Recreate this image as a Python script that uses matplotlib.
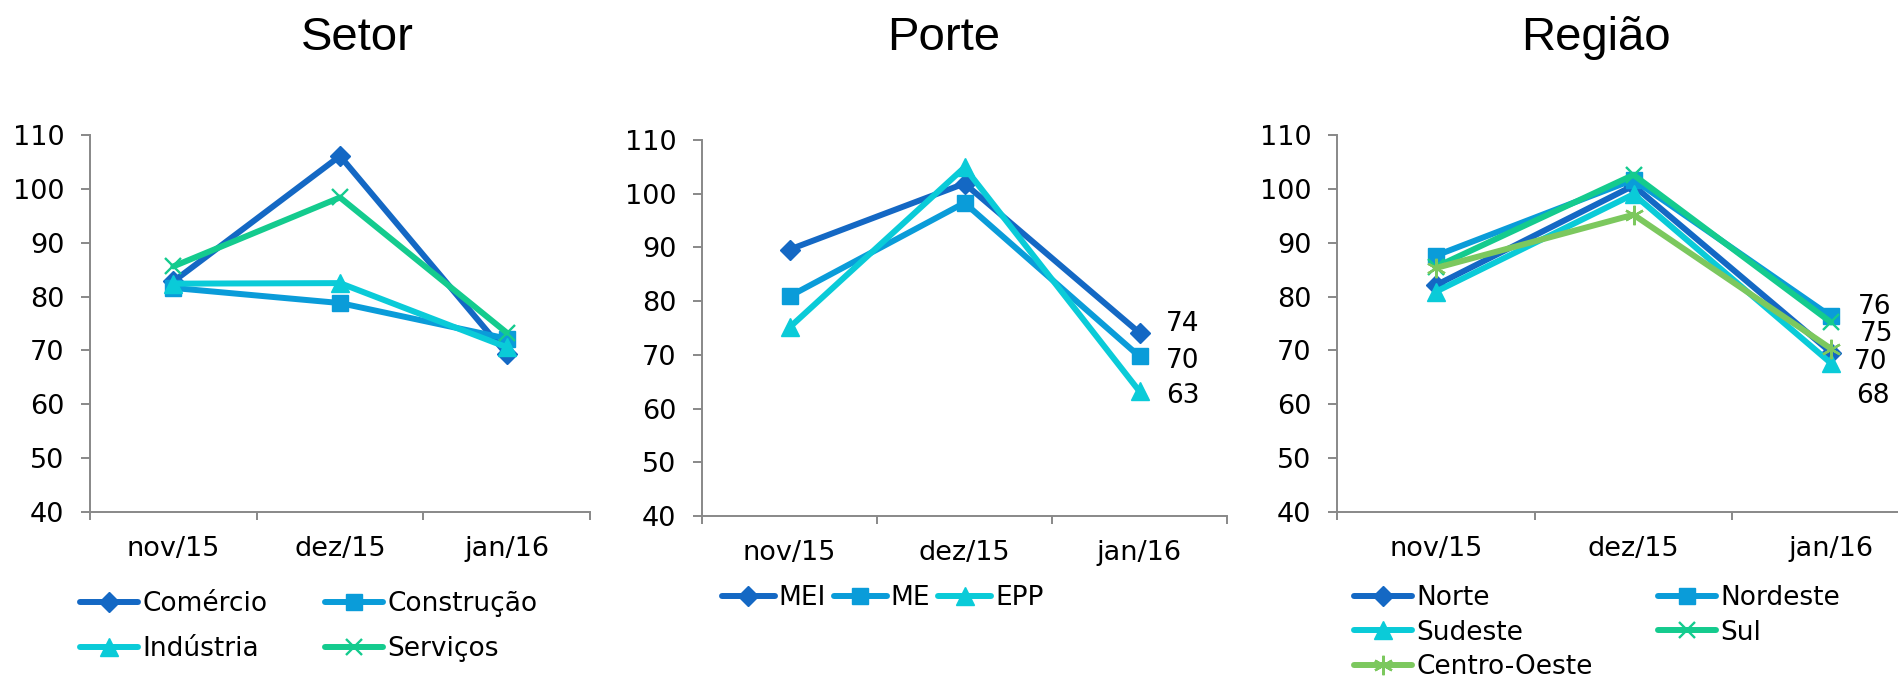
import numpy as np
import matplotlib
matplotlib.use("Agg")
import matplotlib.pyplot as plt
from matplotlib.ticker import FixedLocator, NullFormatter, FixedFormatter

plt.rcParams['font.family'] = ['DejaVu Sans']

# data
months = ["nov/15", "dez/15", "jan/16"]

setor_names = ["Comércio", "Construção", "Indústria", "Serviços"]
comercio = [82.8, 106.1, 69.3]
construcao = [81.6, 78.8, 72.2]
industria = [82.4, 82.5, 70.6]
servicos = [85.6, 98.4, 73.3]

porte_names = ["MEI", "ME", "EPP"]
mei = [89.6, 101.9, 74.1]
me = [80.9, 98.3, 69.7]
epp = [75.1, 104.9, 63.2]

regiao_names = ["Norte", "Nordeste", "Sudeste", "Sul", "Centro-Oeste"]
norte = [82.1, 100.6, 69.6]
nordeste = [87.6, 101.7, 76.3]
sudeste = [80.9, 99.0, 67.6]
sul = [85.5, 102.6, 75.2]
centro_oeste = [85.3, 95.2, 70.3]

# colours / markers
C_DARK = '#1468C4'
C_BLUE = '#0A9CD9'
C_CYAN = '#0ACBD8'
C_TEAL = '#14CB8E'
C_GREEN = '#7CC85E'

STY = {
    'D': dict(marker='D', ms=10.5),
    's': dict(marker='s', ms=11),
    '^': dict(marker='^', ms=12.5),
    'x': dict(marker='x', ms=12, mew=1.7),
    '*': dict(marker=(6, 2, 0), ms=14, mew=1.7),
}

W, H = 1898, 680
fig = plt.figure(figsize=(W / 100, H / 100), dpi=100)


def px_box(left, right, top, bottom):
    return [left / W, 1 - bottom / H, (right - left) / W, (bottom - top) / H]


def setup_axes(ax):
    ax.set_xlim(0, 3)
    ax.set_ylim(40, 110)
    ax.set_yticks(range(40, 111, 10))
    for s in ['top', 'right']:
        ax.spines[s].set_visible(False)
    for s in ['left', 'bottom']:
        ax.spines[s].set_color('#888888')
        ax.spines[s].set_linewidth(1.4)
    ax.xaxis.set_major_locator(FixedLocator([0, 1, 2, 3]))
    ax.xaxis.set_major_formatter(NullFormatter())
    ax.xaxis.set_minor_locator(FixedLocator([0.5, 1.5, 2.5]))
    ax.xaxis.set_minor_formatter(FixedFormatter(months))
    ax.tick_params(axis='x', which='major', length=6, width=1.4, color='#888888', direction='out')
    ax.tick_params(axis='x', which='minor', length=0, pad=17, labelsize=19.5)
    ax.tick_params(axis='y', length=6.5, width=1.4, color='#888888', pad=12, labelsize=19.5)


def draw(ax, series, names, colors, markers):
    x = np.arange(len(months)) + 0.5
    handles = []
    for vals, name, col, mk in zip(series, names, colors, markers):
        h, = ax.plot(x, vals, color=col, lw=4.3, mfc=col, mec=col,
                     label=name, solid_capstyle='round', **STY[mk])
        handles.append(h)
    return handles


def add_legend(ax, handles, order, ncol, anchor_px, colsp, lsp, hlen=2.2):
    hs = [handles[i] for i in order]
    ax.legend(hs, [h.get_label() for h in hs], ncol=ncol, loc='upper left',
              bbox_to_anchor=(anchor_px[0] / W, 1 - anchor_px[1] / H),
              bbox_transform=fig.transFigure, frameon=False, fontsize=19,
              borderpad=0, borderaxespad=0, handlelength=hlen,
              handletextpad=0.15, columnspacing=colsp, labelspacing=lsp,
              numpoints=1)


# Setor
ax1 = fig.add_axes(px_box(90, 590, 135, 512))
setup_axes(ax1)
h1 = draw(ax1, [comercio, construcao, industria, servicos], setor_names,
          [C_DARK, C_BLUE, C_CYAN, C_TEAL], ['D', 's', '^', 'x'])
add_legend(ax1, h1, [0, 2, 1, 3], 2, (80, 591), 2.2, 0.72)

# Porte
ax2 = fig.add_axes(px_box(702, 1227, 140, 516))
setup_axes(ax2)
h2 = draw(ax2, [mei, me, epp], porte_names,
          [C_DARK, C_BLUE, C_CYAN], ['D', 's', '^'])
add_legend(ax2, h2, [0, 1, 2], 3, (722, 585), 0.3, 0.5, hlen=2.0)
for vals, dy in zip([mei, me, epp], [-9, 5, 5]):
    ax2.annotate(f"{round(vals[-1])}", (2.5, vals[-1]), xytext=(19, -dy * 0.72),
                 textcoords='offset points', va='center', ha='left', fontsize=19)

# Regiao
ax3 = fig.add_axes(px_box(1337, 1930, 135, 512))
setup_axes(ax3)
h3 = draw(ax3, [norte, nordeste, sudeste, sul, centro_oeste], regiao_names,
          [C_DARK, C_BLUE, C_CYAN, C_TEAL, C_GREEN], ['D', 's', '^', 'x', '*'])
add_legend(ax3, h3, [0, 2, 4, 1, 3], 2, (1354, 585), 2.5, 0.33)
for vals, dx, dy in zip([nordeste, sul, centro_oeste, sudeste],
                        [27, 29, 23, 25], [-9, 12, 13, 33]):
    ax3.annotate(f"{round(vals[-1])}", (2.5, vals[-1]), xytext=(dx * 0.72, -dy * 0.72),
                 textcoords='offset points', va='center', ha='left', fontsize=19,
                 annotation_clip=False)

# titles
for name, xc in [("Setor", 357), ("Porte", 944), ("Região", 1596)]:
    fig.text(xc / W, 1 - 38 / H, name, ha='center', va='center',
             fontsize=34, family='Liberation Sans')

fig.savefig("out.png", dpi=100)
